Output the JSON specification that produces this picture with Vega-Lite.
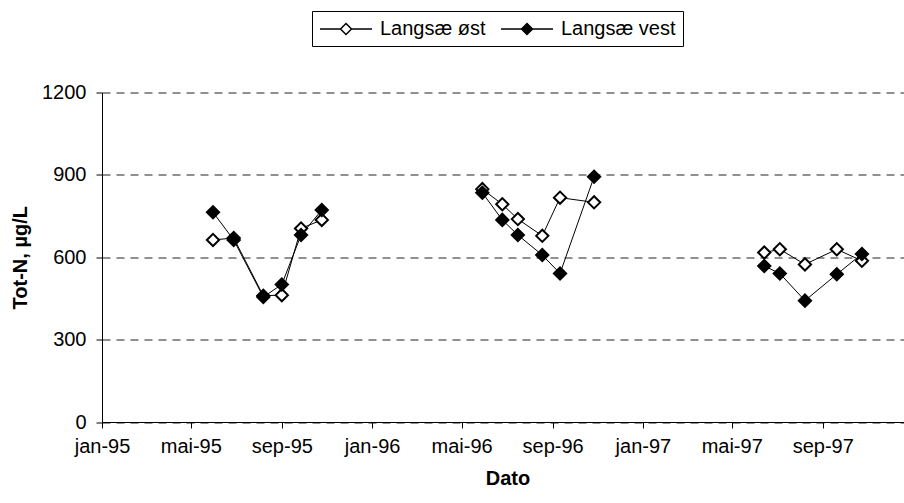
{
  "$schema": "https://vega.github.io/schema/vega-lite/v6.json",
  "width": 811,
  "height": 329.5,
  "autosize": {"type": "none"},
  "padding": {"left": 102, "top": 92.5, "right": 0, "bottom": 81},
  "background": "white",
  "config": {
    "view": {"stroke": null},
    "font": "Liberation Sans",
    "axis": {
      "labelFont": "Liberation Sans",
      "titleFont": "Liberation Sans",
      "labelFontSize": 20,
      "titleFontSize": 20,
      "titleFontWeight": "bold",
      "labelColor": "black",
      "titleColor": "black",
      "domainColor": "black",
      "domainWidth": 1,
      "tickColor": "black",
      "tickWidth": 1,
      "tickSize": 6
    }
  },
  "data": {
    "values": [
      {"serie": "Langsæ øst", "dato": "1995-05-31", "totN": 663},
      {"serie": "Langsæ øst", "dato": "1995-06-28", "totN": 670},
      {"serie": "Langsæ øst", "dato": "1995-08-07", "totN": 460},
      {"serie": "Langsæ øst", "dato": "1995-09-01", "totN": 462},
      {"serie": "Langsæ øst", "dato": "1995-09-27", "totN": 705},
      {"serie": "Langsæ øst", "dato": "1995-10-25", "totN": 736},
      {"serie": "Langsæ øst", "dato": "1996-05-29", "totN": 848},
      {"serie": "Langsæ øst", "dato": "1996-06-25", "totN": 793},
      {"serie": "Langsæ øst", "dato": "1996-07-16", "totN": 739},
      {"serie": "Langsæ øst", "dato": "1996-08-18", "totN": 678},
      {"serie": "Langsæ øst", "dato": "1996-09-11", "totN": 817},
      {"serie": "Langsæ øst", "dato": "1996-10-27", "totN": 800},
      {"serie": "Langsæ øst", "dato": "1997-06-14", "totN": 617},
      {"serie": "Langsæ øst", "dato": "1997-07-05", "totN": 629},
      {"serie": "Langsæ øst", "dato": "1997-08-08", "totN": 574},
      {"serie": "Langsæ øst", "dato": "1997-09-20", "totN": 629},
      {"serie": "Langsæ øst", "dato": "1997-10-24", "totN": 587},
      {"serie": "Langsæ vest", "dato": "1995-05-31", "totN": 764},
      {"serie": "Langsæ vest", "dato": "1995-06-28", "totN": 663},
      {"serie": "Langsæ vest", "dato": "1995-08-07", "totN": 455},
      {"serie": "Langsæ vest", "dato": "1995-09-01", "totN": 501},
      {"serie": "Langsæ vest", "dato": "1995-09-27", "totN": 681},
      {"serie": "Langsæ vest", "dato": "1995-10-25", "totN": 772},
      {"serie": "Langsæ vest", "dato": "1996-05-29", "totN": 835},
      {"serie": "Langsæ vest", "dato": "1996-06-25", "totN": 736},
      {"serie": "Langsæ vest", "dato": "1996-07-16", "totN": 681},
      {"serie": "Langsæ vest", "dato": "1996-08-18", "totN": 608},
      {"serie": "Langsæ vest", "dato": "1996-09-11", "totN": 541},
      {"serie": "Langsæ vest", "dato": "1996-10-27", "totN": 893},
      {"serie": "Langsæ vest", "dato": "1997-06-14", "totN": 568},
      {"serie": "Langsæ vest", "dato": "1997-07-05", "totN": 541},
      {"serie": "Langsæ vest", "dato": "1997-08-08", "totN": 442},
      {"serie": "Langsæ vest", "dato": "1997-09-20", "totN": 538},
      {"serie": "Langsæ vest", "dato": "1997-10-24", "totN": 612}
    ]
  },
  "encoding": {
    "x": {
      "field": "dato",
      "type": "temporal",
      "title": "Dato",
      "scale": {
        "type": "utc",
        "nice": false,
        "domain": [
          {"year": 1995, "month": 1, "date": 1, "utc": true},
          {"year": 1998, "month": 1, "date": 1, "utc": true}
        ]
      },
      "axis": {
        "values": [
          {"year": 1995, "month": 1, "date": 1, "utc": true},
          {"year": 1995, "month": 5, "date": 1, "utc": true},
          {"year": 1995, "month": 9, "date": 1, "utc": true},
          {"year": 1996, "month": 1, "date": 1, "utc": true},
          {"year": 1996, "month": 5, "date": 1, "utc": true},
          {"year": 1996, "month": 9, "date": 1, "utc": true},
          {"year": 1997, "month": 1, "date": 1, "utc": true},
          {"year": 1997, "month": 5, "date": 1, "utc": true},
          {"year": 1997, "month": 9, "date": 1, "utc": true}
        ],
        "labelExpr": "['jan','feb','mar','apr','mai','jun','jul','aug','sep','okt','nov','des'][utcmonth(datum.value)] + '-' + utcFormat(datum.value, '%y')",
        "grid": false,
        "labelPadding": 8,
        "labelOverlap": false,
        "labelFlush": false,
        "titlePadding": 12
      }
    },
    "y": {
      "field": "totN",
      "type": "quantitative",
      "title": "Tot-N, µg/L",
      "scale": {"domain": [0, 1200], "nice": false},
      "axis": {
        "values": [0, 300, 600, 900, 1200],
        "format": "d",
        "grid": true,
        "gridDash": [8, 6],
        "gridColor": "#222222",
        "gridWidth": 1,
        "labelPadding": 10,
        "titlePadding": 11
      }
    }
  },
  "layer": [
    {
      "mark": {"type": "line", "color": "black", "strokeWidth": 1},
      "encoding": {
        "detail": [
          {"field": "serie", "type": "nominal"},
          {"field": "dato", "timeUnit": "utcyear", "type": "ordinal"}
        ]
      }
    },
    {
      "mark": {"type": "point", "shape": "diamond", "filled": true, "stroke": "black", "strokeWidth": 2, "size": 150, "opacity": 1},
      "encoding": {
        "fill": {
          "field": "serie",
          "type": "nominal",
          "scale": {"domain": ["Langsæ øst", "Langsæ vest"], "range": ["white", "black"]},
          "legend": {
            "title": null,
            "orient": "none",
            "legendX": 210,
            "legendY": -81.5,
            "direction": "horizontal",
            "strokeColor": "black",
            "fillColor": "white",
            "padding": 7,
            "cornerRadius": 0,
            "symbolType": "M-2.6,0L-0.55,0M0.55,0L2.6,0M0,-0.55L0.55,0L0,0.55L-0.55,0Z",
            "symbolSize": 400,
            "symbolStrokeColor": "black",
            "symbolStrokeWidth": 1.5,
            "symbolOpacity": 1,
            "symbolOffset": 16,
            "labelOffset": 23,
            "labelFont": "Liberation Sans",
            "labelFontSize": 20,
            "labelColor": "black",
            "columnPadding": 12
          }
        }
      }
    }
  ]
}
